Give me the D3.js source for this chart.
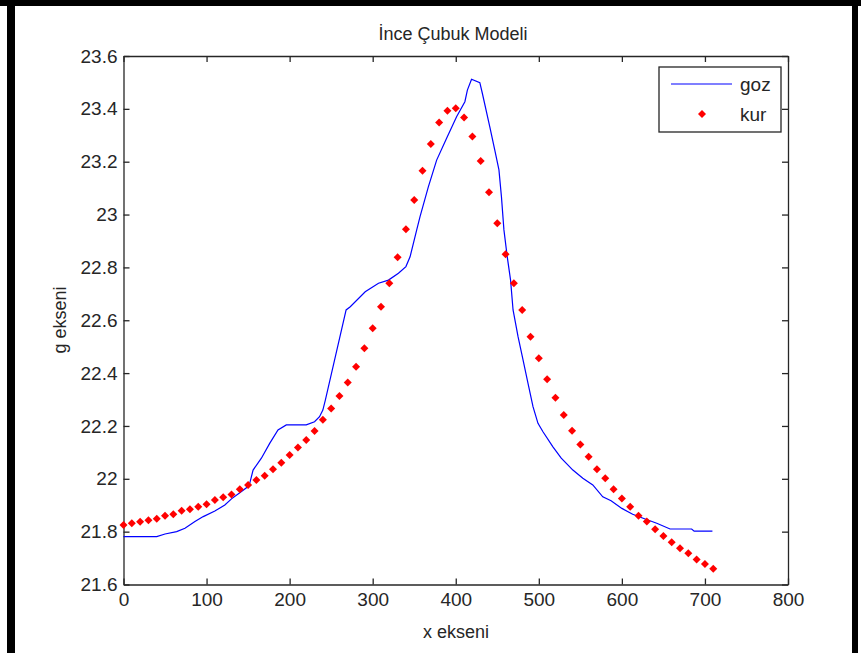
<!DOCTYPE html>
<html>
<head>
<meta charset="utf-8">
<script src="https://cdn.jsdelivr.net/npm/d3@7"></script>
<style>
body{margin:0;background:#fff;}
text{font-family:Arial,"Liberation Sans",sans-serif;fill:#262626;}
</style>
</head>
<body>
<svg width="861" height="653"></svg>
<script>
// data
var gozX=[0,40,50,64,74,86,96,110,122,130,140,148,152,156,166,176,186,196,220,230,236,240,243,268,273,291,307,319,331,340,345,353,357,367,377,389,401,411,414,419,429,432,441,447,452,455,458,462,466,469,475,481,487,493,499,505,517,527,541,553,565,577,587,600,613,628,642,658,684,687,709];
var gozY=[21.781,21.781,21.791,21.800,21.813,21.838,21.857,21.878,21.901,21.924,21.947,21.966,21.983,22.033,22.078,22.134,22.185,22.204,22.204,22.216,22.235,22.260,22.298,22.639,22.651,22.708,22.740,22.752,22.778,22.803,22.840,22.942,22.992,23.105,23.206,23.289,23.370,23.427,23.471,23.512,23.499,23.459,23.332,23.244,23.169,23.068,22.942,22.840,22.752,22.639,22.538,22.450,22.361,22.273,22.210,22.178,22.121,22.078,22.033,22.002,21.977,21.932,21.917,21.888,21.866,21.848,21.832,21.810,21.810,21.802,21.802];
var kurX=[0,10,20,30,40,50,60,70,80,90,100,110,120,130,140,150,160,170,180,190,200,210,220,230,240,250,260,270,280,290,300,310,320,330,340,350,360,370,380,390,400,410,420,430,440,450,460,470,480,490,500,510,520,530,540,550,560,570,580,590,600,610,620,630,640,650,660,670,680,690,700,710];
var kurY=[21.825,21.832,21.837,21.843,21.849,21.860,21.866,21.879,21.885,21.894,21.904,21.920,21.930,21.941,21.960,21.977,21.995,22.012,22.036,22.061,22.090,22.118,22.147,22.181,22.223,22.266,22.313,22.364,22.424,22.494,22.570,22.651,22.740,22.838,22.944,23.055,23.166,23.267,23.348,23.393,23.402,23.367,23.295,23.203,23.084,22.967,22.850,22.740,22.639,22.538,22.456,22.377,22.307,22.241,22.182,22.130,22.083,22.036,22.002,21.960,21.925,21.894,21.860,21.838,21.809,21.784,21.760,21.737,21.718,21.695,21.678,21.660];
var xTicks=[0,100,200,300,400,500,600,700,800];
var yTicks=[21.6,21.8,22,22.2,22.4,22.6,22.8,23,23.2,23.4,23.6];
var seriesNames=['goz','kur'];

var svg=d3.select('svg');
var L=123.5,R=788,T=56,B=584.5;

// outer frame
svg.append('rect').attr('x',0).attr('y',0).attr('width',861).attr('height',6).attr('fill','#000');
svg.append('rect').attr('x',7).attr('y',0).attr('width',8).attr('height',653).attr('fill','#000');
svg.append('rect').attr('x',852).attr('y',0).attr('width',6).attr('height',653).attr('fill','#000');

var x=d3.scaleLinear().domain([0,800]).range([L,R]);
var y=d3.scaleLinear().domain([21.6,23.6]).range([B,T]);

var fmt=function(d){return String(+d.toFixed(1));};

var gx=svg.append('g').attr('transform','translate(0,'+B+')')
  .call(d3.axisBottom(x).tickValues(xTicks).tickFormat(fmt).tickSizeInner(-6).tickSizeOuter(0).tickPadding(8));
var gy=svg.append('g').attr('transform','translate('+L+',0)')
  .call(d3.axisLeft(y).tickValues(yTicks).tickFormat(fmt).tickSizeInner(-6).tickSizeOuter(0).tickPadding(6));
var gt=svg.append('g').attr('transform','translate(0,'+T+')')
  .call(d3.axisTop(x).tickValues(xTicks).tickFormat('').tickSizeInner(-6).tickSizeOuter(0));
var gr=svg.append('g').attr('transform','translate('+R+',0)')
  .call(d3.axisRight(y).tickValues(yTicks).tickFormat('').tickSizeInner(-6).tickSizeOuter(0));
svg.selectAll('.domain,.tick line').attr('stroke','#262626').attr('stroke-width',1.3);
svg.selectAll('.tick text').style('font-size','19px').attr('fill','#262626');

// blue line
var line=d3.line().x(function(d){return x(d[0]);}).y(function(d){return y(d[1]);});
svg.append('path').datum(d3.zip(gozX,gozY)).attr('d',line)
  .attr('fill','none').attr('stroke','#0000ff').attr('stroke-width',1.2);

// red markers
var sym=d3.symbol().type(d3.symbolSquare).size(32);
svg.append('g').selectAll('path').data(d3.zip(kurX,kurY)).enter().append('path')
  .attr('d',sym).attr('fill','#ff0000')
  .attr('transform',function(d){return 'translate('+x(d[0])+','+y(d[1])+') rotate(45)';});

// title and labels
svg.append('text').attr('x',453).attr('y',40).attr('text-anchor','middle').style('font-size','18px').text('İnce Çubuk Modeli');
svg.append('text').attr('x',456).attr('y',638).attr('text-anchor','middle').style('font-size','18px').text('x ekseni');
svg.append('text').attr('transform','translate(66,320) rotate(-90)').attr('text-anchor','middle').style('font-size','18px').text('g ekseni');

// legend
var lg=svg.append('g');
lg.append('rect').attr('x',659).attr('y',67).attr('width',122).attr('height',65).attr('fill','#fff').attr('stroke','#262626').attr('stroke-width',1.3);
lg.append('line').attr('x1',671).attr('x2',732).attr('y1',84).attr('y2',84).attr('stroke','#0000ff').attr('stroke-width',1.2);
lg.append('path').attr('d',sym).attr('fill','#ff0000').attr('transform','translate(702,114) rotate(45)');
lg.selectAll('text.lab').data(seriesNames).enter().append('text').attr('class','lab')
  .attr('x',740).attr('y',function(d,i){return 91+i*30;}).style('font-size','19px').text(function(d){return d;});
</script>
</body>
</html>
